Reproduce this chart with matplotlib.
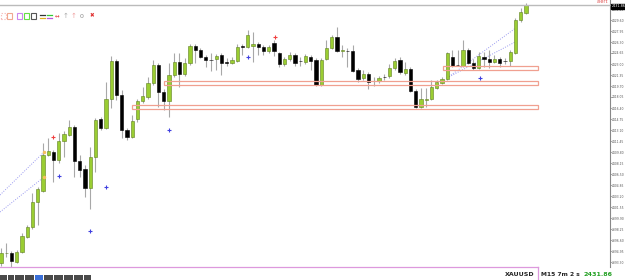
import matplotlib.pyplot as plt
import matplotlib.patches as mpatches
from matplotlib.lines import Line2D

# XAUUSD M15 candles (price)
opens = [2393.15, 2394.58, 2394.65, 2393.30, 2394.80, 2397.05, 2398.55, 2402.30, 2403.95, 2409.35,
         2409.80, 2408.60, 2411.45, 2412.35, 2413.55, 2408.45, 2407.25, 2404.40, 2409.05, 2414.75,
         2413.40, 2417.75, 2423.45, 2418.35, 2413.10, 2412.05, 2414.75, 2417.45, 2418.05, 2420.15,
         2422.85, 2418.80, 2417.45, 2421.35, 2423.30, 2421.50, 2423.15, 2425.70, 2425.10, 2424.05,
         2423.60, 2423.75, 2424.35, 2423.30, 2423.15, 2423.45, 2425.70, 2425.55, 2425.70, 2426.00,
         2425.55, 2424.95, 2426.15, 2424.65, 2423.00, 2423.75, 2424.35, 2423.45, 2423.30, 2424.05,
         2423.60, 2419.85, 2423.75, 2425.40, 2427.05, 2424.95, 2424.95, 2424.95, 2422.10, 2420.90,
         2421.50, 2420.45, 2420.45, 2421.05, 2421.20, 2422.40, 2423.60, 2421.65, 2422.25, 2418.95,
         2416.55, 2417.60, 2417.75, 2419.40, 2420.15, 2420.75, 2424.05, 2422.85, 2422.70, 2425.10,
         2423.15, 2422.40, 2424.05, 2423.75, 2423.30, 2423.75, 2423.45, 2423.45, 2424.65, 2429.60,
         2430.65]
highs = [2395.40, 2396.15, 2394.95, 2395.10, 2397.65, 2398.85, 2403.65, 2404.55, 2411.15, 2411.90,
         2410.10, 2412.65, 2412.95, 2414.60, 2413.85, 2409.35, 2407.85, 2410.55, 2414.90, 2415.05,
         2420.30, 2424.20, 2423.75, 2419.10, 2413.40, 2415.35, 2417.75, 2419.55, 2421.05, 2423.60,
         2423.15, 2419.25, 2423.15, 2424.65, 2424.65, 2423.90, 2426.00, 2426.00, 2425.40, 2424.35,
         2424.65, 2424.50, 2424.65, 2423.90, 2424.05, 2426.00, 2426.00, 2428.10, 2427.80, 2426.30,
         2425.85, 2425.85, 2426.60, 2424.80, 2424.05, 2424.80, 2424.65, 2424.05, 2424.50, 2424.35,
         2423.90, 2423.90, 2426.60, 2427.35, 2428.55, 2425.85, 2425.40, 2425.85, 2422.40, 2422.10,
         2421.80, 2421.05, 2421.20, 2421.50, 2423.00, 2423.90, 2424.05, 2423.30, 2422.55, 2419.25,
         2419.40, 2419.40, 2420.60, 2420.60, 2421.05, 2424.80, 2425.10, 2425.10, 2426.60, 2425.40,
         2423.75, 2424.80, 2424.80, 2425.10, 2424.35, 2424.05, 2423.90, 2425.10, 2429.90, 2431.40,
         2432.15]
lows = [2392.70, 2394.05, 2392.55, 2393.15, 2394.65, 2396.90, 2398.25, 2398.85, 2403.80, 2409.20,
        2405.30, 2408.15, 2409.05, 2412.20, 2406.05, 2406.05, 2403.05, 2401.25, 2406.80, 2413.10,
        2413.25, 2416.40, 2417.60, 2411.90, 2411.60, 2411.90, 2414.30, 2417.15, 2417.75, 2419.85,
        2416.55, 2416.10, 2415.05, 2421.05, 2419.55, 2421.20, 2422.85, 2423.15, 2423.90, 2422.55,
        2421.95, 2422.10, 2421.35, 2422.70, 2423.00, 2423.30, 2424.35, 2425.40, 2423.30, 2424.35,
        2424.35, 2424.65, 2424.20, 2422.55, 2422.70, 2423.45, 2422.70, 2422.70, 2423.00, 2422.10,
        2419.70, 2419.70, 2423.60, 2425.25, 2424.80, 2424.05, 2422.55, 2421.80, 2420.30, 2420.60,
        2419.25, 2419.70, 2420.15, 2420.60, 2420.90, 2422.10, 2421.50, 2421.35, 2418.80, 2416.40,
        2416.40, 2416.55, 2417.60, 2419.25, 2420.00, 2420.60, 2422.55, 2422.70, 2422.55, 2423.00,
        2422.10, 2422.25, 2422.55, 2422.40, 2423.15, 2422.55, 2423.00, 2422.70, 2424.50, 2429.30,
        2430.50]
closes = [2394.65, 2394.65, 2393.45, 2394.80, 2397.20, 2398.55, 2402.30, 2404.25, 2409.35, 2409.95,
          2408.60, 2411.45, 2412.50, 2413.55, 2408.45, 2407.10, 2404.40, 2409.05, 2414.60, 2413.40,
          2417.75, 2423.45, 2418.35, 2413.10, 2412.05, 2414.45, 2417.45, 2418.20, 2420.15, 2422.85,
          2418.80, 2417.45, 2421.35, 2423.30, 2421.50, 2423.15, 2425.70, 2425.10, 2424.05, 2423.60,
          2423.55, 2424.20, 2423.15, 2423.15, 2423.60, 2425.55, 2425.55, 2427.35, 2426.00, 2425.55,
          2424.95, 2425.55, 2424.95, 2423.00, 2423.75, 2424.35, 2423.15, 2423.38, 2424.20, 2423.45,
          2419.85, 2423.60, 2425.40, 2427.05, 2424.95, 2425.02, 2424.88, 2421.95, 2420.75, 2421.50,
          2420.30, 2420.38, 2420.90, 2421.00, 2422.40, 2423.45, 2421.80, 2422.25, 2418.95, 2416.55,
          2417.75, 2417.75, 2419.55, 2420.30, 2420.75, 2424.65, 2422.70, 2422.78, 2425.10, 2423.15,
          2422.40, 2424.20, 2423.75, 2423.30, 2423.75, 2423.15, 2423.38, 2424.80, 2429.60, 2430.80,
          2431.85]

# support / resistance boxes: (start index, low, high)
zone_start = [31.0, 25.0, 84.2]
zone_low = [2419.85, 2416.25, 2422.10]
zone_high = [2420.45, 2416.85, 2422.70]
zone_end = 102.3

# arrows (signal crosses)
buy_x = [11.05, 16.95, 20.0, 32.0, 47.05, 91.2]
buy_y = [2406.20, 2397.95, 2404.55, 2413.10, 2424.05, 2420.90]
sell_x = [9.9, 52.2]
sell_y = [2412.05, 2427.05]

# dotted trend lines
trend_x = [[-0.19, 8.2], [-0.19, 8.2], [84.95, 98.3], [84.95, 98.3]]
trend_y = [[2403.35, 2409.80], [2400.80, 2406.05], [2420.90, 2428.55], [2420.90, 2426.45]]

yticks = [2431.25 - 1.65 * k for k in range(24)]
last_price = "2431.86"

W, H = 625, 280
narrow = 'Liberation Sans Narrow'
fig = plt.figure(figsize=(W / 100, H / 100), dpi=100)
ax = fig.add_axes([0, 13 / H, 610 / W, 267 / H])
ax.set_xlim(-0.19, 116.0)
ax.set_ylim(2392.55, 2432.60)

bull = '#9acd32'
bear = '#000000'
for i in range(len(opens)):
    o, h, l, c = opens[i], highs[i], lows[i], closes[i]
    ax.vlines(i, l, h, color='#a8a8a8', lw=0.8, zorder=2)
    col = bull if c >= o else bear
    body = max(abs(c - o), 0.1)
    ax.bar(i, body, bottom=min(o, c), width=0.66, color=col,
           edgecolor='#5f7f20' if c >= o else bear, lw=0.4, zorder=3)

for s, lo, hi in zip(zone_start, zone_low, zone_high):
    ax.add_patch(mpatches.Rectangle((s, lo), zone_end - s, hi - lo, fill=False,
                                    edgecolor='#f0a090', lw=0.9, zorder=4))

for xs, ys in zip(trend_x, trend_y):
    ax.plot(xs, ys, ls=(0, (1, 1.5)), color='#9a9af0', lw=0.7, zorder=1)

ax.plot([8.2, 8.2], [2409.80, 2406.05], ls='none', marker='o', ms=1.5, color='#f5c060', zorder=5)
ax.plot(buy_x, buy_y, ls='none', marker='+', ms=3, mew=0.8, color='#4040e0', zorder=5)
ax.plot(sell_x, sell_y, ls='none', marker='+', ms=3, mew=0.8, color='#f04040', zorder=5)

for sp in ['top', 'left', 'bottom']:
    ax.spines[sp].set_visible(False)
ax.spines['right'].set_color('#888888')
ax.spines['right'].set_linewidth(0.8)
ax.set_xticks([])
ax.yaxis.tick_right()
ax.set_yticks(yticks)
ax.set_yticklabels(['%.2f' % v for v in yticks], family=narrow)
ax.tick_params(axis='y', labelsize=2.2, colors='#888888', labelcolor='#555555',
               length=1.2, width=0.5, pad=0.3)

# current price box on the axis
fig.text(611.5 / W, 1 - 6 / H, last_price, fontsize=2.4, color='white', va='center', ha='left',
         family=narrow, bbox=dict(boxstyle='square,pad=0.15', fc='black', ec='black'))

# frame lines
fig.add_artist(Line2D([0, 610 / W], [1 - 4.5 / H] * 2, color='#bbbbbb', lw=1))
fig.add_artist(Line2D([0, 538 / W], [1 - 267 / H] * 2, color='#dd99dd', lw=0.9))
fig.add_artist(Line2D([538 / W] * 2, [0, 1 - 267 / H], color='#dd99dd', lw=0.9))
fig.text(597 / W, 1 - 1.5 / H, 'alert', fontsize=3.5, color='#e05050', ha='left', va='center',
         family=narrow)

# bottom info
fig.text(505 / W, 1 - 275 / H, 'XAUUSD', fontsize=4.5, fontweight='bold', color='#222222',
         va='center', family=narrow)
fig.text(541 / W, 1 - 275 / H, 'M15 7m 2 s', fontsize=4.3, fontweight='bold', color='#222222',
         va='center', family=narrow)
fig.text(583 / W, 1 - 275 / H, last_price, fontsize=4.6, fontweight='bold', color='#22a022',
         va='center', family=narrow)

# bottom-left tab strip
tab_x = [0, 8, 15, 25, 35, 44, 54, 64, 74, 84, 92]
for k, tx in enumerate(tab_x[:-1]):
    w = tab_x[k + 1] - tx - 1.5
    fig.add_artist(mpatches.Rectangle((tx / W, 0), w / W, 5 / H,
                                      color='#3a6fd8' if k == 4 else '#4a4a4a', lw=0))

# top toolbar icons
icons = [(0, '#f5b0b0', ':'), (6, '#f0a890', '-'), (16, '#cc88ee', '-'), (23, '#66dd44', '-'),
         (30, '#555555', '-')]
for ix, col, ls in icons:
    fig.add_artist(mpatches.Rectangle(((ix + 1) / W, 1 - 18.5 / H), 5 / W, 5 / H, fill=False,
                                      edgecolor=col, lw=0.8, ls=ls))
fig.add_artist(Line2D([40 / W, 45 / W], [1 - 14.5 / H] * 2, color='#333333', lw=0.9))
fig.add_artist(Line2D([40 / W, 45 / W], [1 - 17.5 / H] * 2, color='#e0b020', lw=0.9))
fig.add_artist(Line2D([47 / W, 52 / W], [1 - 14.5 / H] * 2, color='#33cc33', lw=0.9))
fig.add_artist(Line2D([47 / W, 52 / W], [1 - 17.5 / H] * 2, color='#bb55dd', lw=0.9))
fig.text(55 / W, 1 - 16 / H, '↔', fontsize=4, color='#e04040', va='center')
fig.text(63 / W, 1 - 16 / H, '↑', fontsize=5, color='#aaaaaa', va='center')
fig.text(71 / W, 1 - 16 / H, '↑', fontsize=5, color='#f0a0a0', va='center')
fig.text(80 / W, 1 - 16 / H, '0', fontsize=4.5, color='#888888', va='center')
fig.text(90 / W, 1 - 16 / H, '✖', fontsize=4, color='#e03030', va='center')

fig.savefig('out.png', dpi=100)
